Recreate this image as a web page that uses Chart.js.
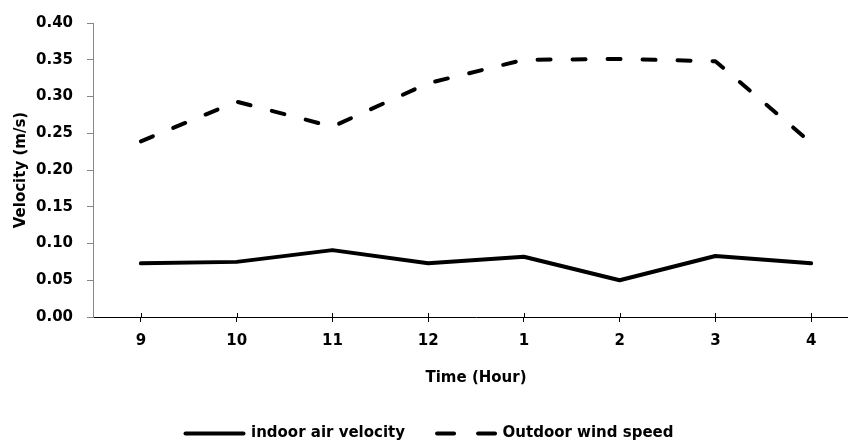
<!DOCTYPE html>
<html>
<head>
<meta charset="utf-8">
<script src="https://cdn.jsdelivr.net/npm/chart.js@4.4.1/dist/chart.umd.min.js"></script>
<style>
  html, body { margin: 0; padding: 0; background: #fff; overflow: hidden; }
  #wrap { width: 848px; height: 446px; overflow: hidden; }
  canvas { display: block; }
</style>
</head>
<body>
<div id="wrap"><canvas id="c" width="864" height="451"></canvas></div>
<script>
  // values
  var HOURS = ["9", "10", "11", "12", "1", "2", "3", "4"];
  var INDOOR = [0.073, 0.075, 0.091, 0.073, 0.082, 0.050, 0.083, 0.073];
  var OUTDOOR = [0.239, 0.293, 0.259, 0.318, 0.350, 0.351, 0.348, 0.237];
  var Y_TICKS = [0, 0.05, 0.10, 0.15, 0.20, 0.25, 0.30, 0.35, 0.40];

  var FONT = "'DejaVu Sans', sans-serif";
  var bold = { family: FONT, size: 15, weight: "bold" };

  // x ticks cross the axis line: draw the part above the axis
  var crossTicks = {
    id: "crossTicks",
    afterDraw: function (chart) {
      var x = chart.scales.x, ctx = chart.ctx, y0 = chart.chartArea.bottom;
      ctx.save();
      ctx.strokeStyle = "#000"; ctx.lineWidth = 1;
      for (var i = 0; i < x.ticks.length; i++) {
        var px = Math.round(x.getPixelForTick(i)) + 0.5;
        ctx.beginPath(); ctx.moveTo(px, y0 - 4); ctx.lineTo(px, y0); ctx.stroke();
      }
      ctx.restore();
    }
  };

  new Chart(document.getElementById("c"), {
    type: "line",
    data: {
      labels: HOURS,
      datasets: [
        { label: "indoor air velocity", data: INDOOR, borderColor: "#000", backgroundColor: "#000",
          borderWidth: 4, pointRadius: 0, tension: 0, borderCapStyle: "round", borderJoinStyle: "round" },
        { label: "Outdoor wind speed", data: OUTDOOR, borderColor: "#000", backgroundColor: "#000",
          borderWidth: 4, borderDash: [13, 22], pointRadius: 0, tension: 0, borderCapStyle: "round", borderJoinStyle: "round" }
      ]
    },
    options: {
      responsive: false, animation: false,
      layout: { padding: { top: 16, right: 5, bottom: 0, left: 0 } },
      plugins: {
        tooltip: { enabled: false },
        legend: {
          position: "bottom",
          labels: {
            color: "#000", font: bold, usePointStyle: true, pointStyle: "line", pointStyleWidth: 58, padding: 32,
            generateLabels: function (chart) {
              var items = Chart.defaults.plugins.legend.labels.generateLabels(chart);
              items.forEach(function (it) {
                var ds = chart.data.datasets[it.datasetIndex];
                it.lineDash = ds.borderDash ? [17, 24] : [];
                it.lineCap = "round";
                it.lineWidth = 4;
              });
              return items;
            }
          }
        }
      },
      scales: {
        x: {
          offset: true,
          grid: { drawOnChartArea: false, tickLength: 5, color: "#000" },
          border: { color: "#000", width: 1 },
          ticks: { color: "#000", font: bold, padding: 10, maxRotation: 0 },
          title: { display: true, text: "Time (Hour)", color: "#000", font: bold, padding: { top: 4, bottom: 7 } },
          afterFit: function (s) { s.height = 77; }
        },
        y: {
          min: 0, max: 0.40,
          grid: { drawOnChartArea: false, tickLength: 6, color: "#868686" },
          border: { color: "#868686", width: 1 },
          afterBuildTicks: function (s) { s.ticks = Y_TICKS.map(function (v) { return { value: v }; }); },
          ticks: { color: "#000", font: bold, padding: 14, callback: function (v) { return v.toFixed(2); } },
          title: { display: true, text: "Velocity (m/s)", color: "#000", font: bold, padding: { top: 12, bottom: 4 } },
          afterFit: function (s) { s.width = 93; }
        }
      }
    },
    plugins: [crossTicks]
  });
</script>
</body>
</html>
